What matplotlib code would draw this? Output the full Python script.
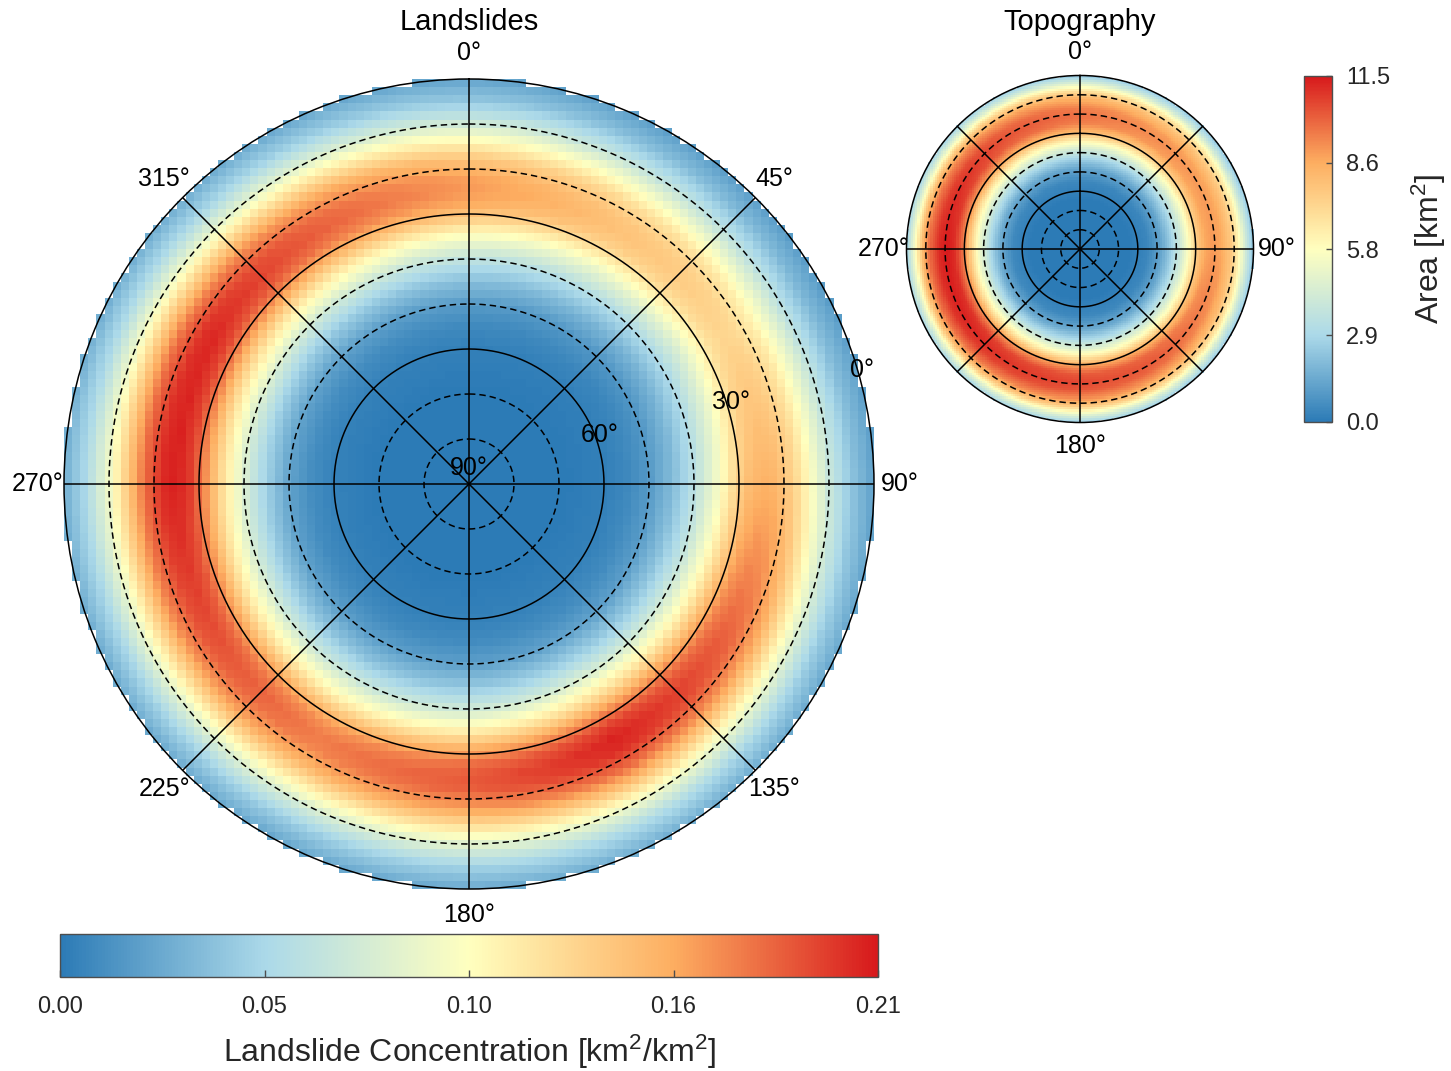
import numpy as np
import matplotlib
matplotlib.use("Agg")
import matplotlib.pyplot as plt
from matplotlib.cm import ScalarMappable
from matplotlib.colors import Normalize, LinearSegmentedColormap

plt.rcParams["font.family"] = ["Liberation Sans", "DejaVu Sans"]
plt.rcParams["mathtext.default"] = "regular"

# ---- Landslide concentration: ring profile across slope and crest value by aspect
ls_slope_deg = [0, 5, 10, 15, 18, 22, 25, 28, 31, 35, 40, 45, 50, 55, 60, 70, 90]
ls_profile = [0.14, 0.26, 0.46, 0.72, 0.87, 0.98, 1.0, 0.95, 0.83, 0.62, 0.40, 0.23, 0.11, 0.05, 0.02, 0.0, 0.0]
ls_aspect_deg = [0, 30, 60, 90, 120, 150, 180, 210, 240, 270, 300, 330, 360]
ls_crest = [0.165, 0.145, 0.132, 0.155, 0.185, 0.207, 0.188, 0.175, 0.192, 0.208, 0.205, 0.185, 0.165]
ls_vmax = 0.21

# ---- Topography area: ring profile across slope and crest value by aspect
tp_slope_deg = [0, 4, 8, 12, 17, 21, 25, 30, 34, 38, 43, 48, 55, 65, 90]
tp_profile = [0.25, 0.45, 0.70, 0.86, 0.97, 1.0, 0.97, 0.82, 0.62, 0.45, 0.28, 0.14, 0.04, 0.0, 0.0]
tp_aspect_deg = [0, 30, 60, 90, 120, 150, 180, 210, 240, 270, 300, 330, 360]
tp_crest = [9.8, 9.3, 9.0, 9.0, 9.6, 10.3, 10.6, 10.9, 11.3, 11.5, 11.0, 10.3, 9.8]
tp_vmax = 11.5

dip_rings = [80, 70, 60, 50, 40, 30, 20, 10]
solid_rings = [60, 30]
azimuth_lines = [0, 45, 90, 135, 180, 225, 270, 315]

# Five-class diverging palette, blue (low) to red (high)
palette = ["#2c7bb6", "#abd9e9", "#ffffbf", "#fdae61", "#d7191c"]
CMAP = LinearSegmentedColormap.from_list("rdylbu5_r", palette, N=256)
W, H = 1451, 1071


def grid_field(n, slopes, profile, aspects, crest):
    edges = np.linspace(-90, 90, n + 1)
    mid = 0.5 * (edges[:-1] + edges[1:])
    X, Y = np.meshgrid(mid, mid)
    R = np.hypot(X, Y)
    AZ = np.degrees(np.arctan2(X, Y)) % 360
    Z = np.interp(90 - R, slopes, profile) * np.interp(AZ, aspects, crest)
    return edges, np.ma.masked_where(R > 90, Z)


def frame(cx, cy, rad):
    return [(cx - rad) / W, 1 - (cy + rad) / H, 2 * rad / W, 2 * rad / H]


def stereo_panel(fig, rect, field, vmax, labels, label_r):
    edges, Z = field
    ax_img = fig.add_axes(rect)
    ax_img.pcolormesh(edges, edges, Z, cmap=CMAP, vmin=0, vmax=vmax, shading="flat")
    ax_img.set_xlim(-90, 90)
    ax_img.set_ylim(-90, 90)
    ax_img.axis("off")

    ax = fig.add_axes(rect, projection="polar")
    ax.patch.set_alpha(0)
    ax.set_theta_zero_location("N")
    ax.set_theta_direction(-1)
    ax.set_ylim(0, 90)
    ax.set_xticks([])
    ax.set_yticks([])
    ax.grid(False)
    ax.spines["polar"].set_color("black")
    ax.spines["polar"].set_linewidth(1.1)
    th = np.linspace(0, 2 * np.pi, 721)
    for d in dip_rings:
        r = 90 - d
        if d in solid_rings:
            ax.plot(th, np.full_like(th, r), color="black", lw=1.1)
        else:
            ax.plot(th, np.full_like(th, r), color="black", lw=1.1, dashes=(4.2, 2.6))
    for a in azimuth_lines:
        ax.plot([np.radians(a)] * 2, [0, 90], color="black", lw=1.1)
    for a in labels:
        ax.text(np.radians(a), label_r, f"{a}°", ha="center", va="center",
                fontsize=18, clip_on=False)
    return ax_img, ax


fig = plt.figure(figsize=(W / 100, H / 100), dpi=100)

# Landslides (large)
ls_field = grid_field(100, ls_slope_deg, ls_profile, ls_aspect_deg, ls_crest)
ax_img, ax_ls = stereo_panel(fig, frame(469, 484, 405), ls_field, ls_vmax,
                             azimuth_lines, 95.8)
lab_az = np.radians(76)
for d in [90, 60, 30, 0]:
    r = 90 - d
    ax_img.text(r * np.sin(lab_az), r * np.cos(lab_az) + 3.6, f"{d}°",
                ha="center", va="center", fontsize=18, clip_on=False)
fig.text(469 / W, 1 - 22 / H, "Landslides", ha="center", va="center", fontsize=21)

# Topography (small)
tp_field = grid_field(160, tp_slope_deg, tp_profile, tp_aspect_deg, tp_crest)
stereo_panel(fig, frame(1080, 249, 173.5), tp_field, tp_vmax, [0, 90, 180, 270], 102)
fig.text(1080 / W, 1 - 22 / H, "Topography", ha="center", va="center", fontsize=21)

TXT = "#262626"

# Horizontal colourbar for landslides
cax1 = fig.add_axes([60 / W, 1 - 977 / H, 818 / W, 43 / H])
cb1 = fig.colorbar(ScalarMappable(Normalize(0, ls_vmax), CMAP), cax=cax1,
                   orientation="horizontal")
cb1.set_ticks(np.linspace(0, ls_vmax, 5))
cb1.ax.set_xticklabels([f"{v:.2f}" for v in np.linspace(0, ls_vmax, 5)])
cb1.ax.tick_params(direction="in", length=5, width=1, color="0.3",
                   labelsize=17, labelcolor=TXT, pad=14)
cb1.outline.set_edgecolor("0.3")
cb1.outline.set_linewidth(1)
cb1.set_label("Landslide Concentration [km$^2$/km$^2$]", fontsize=23, color=TXT,
              labelpad=10)

# Vertical colourbar for topography
cax2 = fig.add_axes([1304 / W, 1 - 422 / H, 28 / W, 346 / H])
cb2 = fig.colorbar(ScalarMappable(Normalize(0, tp_vmax), CMAP), cax=cax2,
                   orientation="vertical")
cb2.set_ticks(np.linspace(0, tp_vmax, 5))
cb2.ax.set_yticklabels([f"{v:.1f}" for v in np.linspace(0, tp_vmax, 5)])
cb2.ax.tick_params(direction="in", length=4, width=1, color="0.3",
                   labelsize=17, labelcolor=TXT, pad=10)
cb2.outline.set_edgecolor("0.3")
cb2.outline.set_linewidth(1)
cb2.set_label("Area [km$^2$]", fontsize=23, color=TXT, labelpad=14)

fig.savefig("out.png", dpi=100)
